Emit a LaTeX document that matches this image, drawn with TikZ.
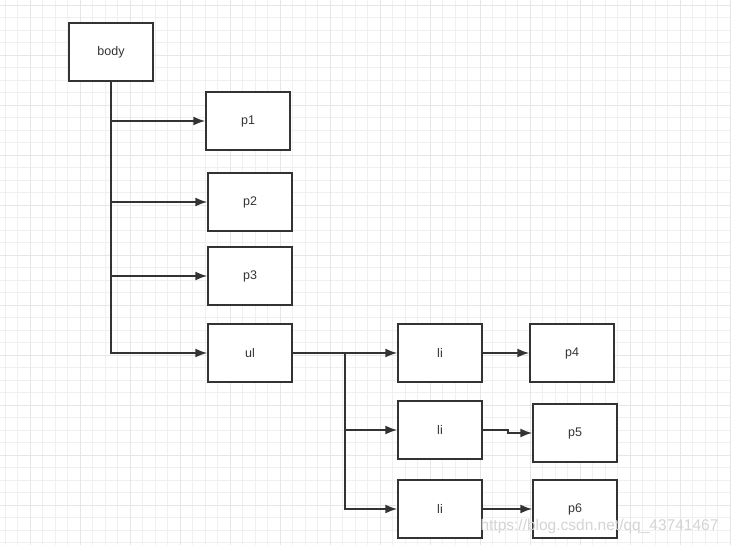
\documentclass[tikz,border=0pt]{standalone}
\usepackage{fontspec}
\setmainfont{Liberation Sans}
\usetikzlibrary{arrows.meta}
\definecolor{ink}{HTML}{333333}
\definecolor{gridminor}{HTML}{F0F0F0}
\definecolor{gridmajor}{HTML}{E6E6E6}
\definecolor{mark}{HTML}{D4D4D4}
\tikzstyle{box} = [draw=ink, fill=white, line width=1.5pt, minimum width=84pt, minimum height=58pt, text=ink, font=\fontsize{12.5}{14}\selectfont]
\tikzstyle{edge} = [draw=ink, line width=1.6pt, -{Latex[length=12pt,width=9pt]}]

\begin{document}
\begin{tikzpicture}[x=1pt, y=-1pt]
    \useasboundingbox (0,0) rectangle (731,545);
    \fill[white] (0,0) rectangle (731,545);
    % background grid
    \foreach \i in {0,...,58}
      \draw[gridminor, line width=0.7pt] (5+12.5*\i,0) -- (5+12.5*\i,545);
    \foreach \i in {0,...,43}
      \draw[gridminor, line width=0.7pt] (0,5+12.5*\i) -- (731,5+12.5*\i);
    \foreach \i in {0,...,14}
      \draw[gridmajor, line width=0.9pt] (30+50*\i,0) -- (30+50*\i,545);
    \foreach \i in {0,...,10}
      \draw[gridmajor, line width=0.9pt] (0,5+50*\i) -- (731,5+50*\i);

    \node[box] (body) at (111,52) {body};
    \node[box] (p1) at (248,121) {p1};
    \node[box] (p2) at (250,202) {p2};
    \node[box] (p3) at (250,276) {p3};
    \node[box] (ul) at (250,353) {ul};
    \node[box] (li1) at (440,353) {li};
    \node[box] (li2) at (440,430) {li};
    \node[box] (li3) at (440,509) {li};
    \node[box] (p4) at (572,353) {p4};
    \node[box] (p5) at (575,433) {p5};
    \node[box] (p6) at (575,509) {p6};
    \coordinate (fork) at (345,353);

    \draw[edge] (body.south) |- (p1);
    \draw[edge] (body.south) |- (p2);
    \draw[edge] (body.south) |- (p3);
    \draw[edge] (body.south) |- (ul);
    \draw[edge] (ul) -- (li1);
    \draw[edge] (fork) |- (li2);
    \draw[edge] (fork) |- (li3);
    \draw[edge] (li1) -- (p4);
    \draw[edge] (li2.east) -- ++(25,0) |- (p5.west);
    \draw[edge] (li3) -- (p6);

    % watermark
    \node[text=mark, font=\fontsize{15.5}{18}\selectfont, anchor=west] (mark) at (477,526) {https://blog.csdn.net/qq\_43741467};
\end{tikzpicture}
\end{document}
